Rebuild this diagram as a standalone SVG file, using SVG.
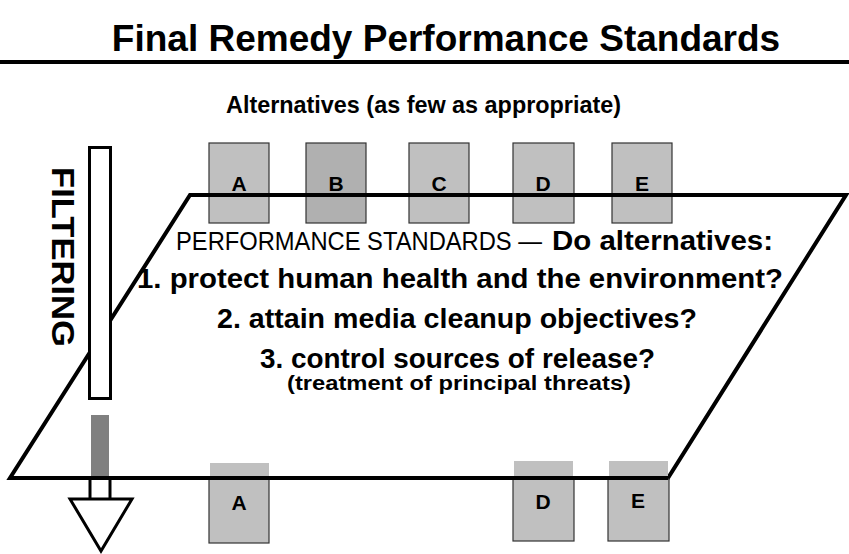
<svg xmlns="http://www.w3.org/2000/svg" width="849" height="554" viewBox="0 0 849 554">
<style>
text{font-family:"Liberation Sans",Arial,sans-serif;font-weight:bold;fill:#000}
.box{fill:#c0c0c0;stroke:#333;stroke-width:1.2}
.strip{fill:#c0c0c0;stroke:none}
.q{font-size:28px}
</style>
<rect width="849" height="554" fill="#fff"/>
<text x="446" y="51" font-size="37" text-anchor="middle">Final Remedy Performance Standards</text>
<line x1="0" y1="62" x2="849" y2="62" stroke="#000" stroke-width="4"/>
<text x="226" y="113" font-size="24" textLength="395" lengthAdjust="spacingAndGlyphs">Alternatives (as few as appropriate)</text>

<g id="plane">
<polygon points="190,195 846,195 668,478 10,478" fill="#fff" stroke="#000" stroke-width="4" stroke-linejoin="miter"/>
</g>

<g id="filter">
<rect x="89.5" y="147.5" width="21" height="251" fill="#fff" stroke="#000" stroke-width="3"/>
<rect x="91" y="415" width="18" height="63" fill="#808080"/>
<line x1="90" y1="478" x2="90" y2="499" stroke="#000" stroke-width="3"/>
<line x1="110" y1="478" x2="110" y2="499" stroke="#000" stroke-width="3"/>
<polygon points="70,499 132,499 101,551" fill="#fff" stroke="#000" stroke-width="3"/>
<text transform="translate(52,167) rotate(90)" font-size="32" textLength="180" lengthAdjust="spacingAndGlyphs">FILTERING</text>
</g>

<g id="top-A"><rect class="box" x="209" y="143" width="60" height="80"/><text x="239" y="191" font-size="21" text-anchor="middle">A</text></g>
<g id="top-B"><rect class="box" x="306" y="143" width="60" height="80" style="fill:#b0b0b0"/><text x="336" y="191" font-size="21" text-anchor="middle">B</text></g>
<g id="top-C"><rect class="box" x="409" y="143" width="60" height="80"/><text x="439" y="191" font-size="21" text-anchor="middle">C</text></g>
<g id="top-D"><rect class="box" x="513" y="143" width="61" height="80"/><text x="543" y="191" font-size="21" text-anchor="middle">D</text></g>
<g id="top-E"><rect class="box" x="612" y="143" width="60" height="80"/><text x="642" y="191" font-size="21" text-anchor="middle">E</text></g>

<g id="connectors">
<line x1="190" y1="195" x2="846" y2="195" stroke="#000" stroke-width="4"/>
</g>

<g id="questions">
<text x="176" y="250" font-size="25" font-weight="normal" style="font-weight:normal" textLength="366" lengthAdjust="spacingAndGlyphs">PERFORMANCE STANDARDS —</text>
<text x="552" y="250" font-size="28" textLength="221" lengthAdjust="spacingAndGlyphs">Do alternatives:</text>
<text class="q" x="137" y="288" textLength="646" lengthAdjust="spacingAndGlyphs">1. protect human health and the environment?</text>
<text class="q" x="217" y="328" textLength="480" lengthAdjust="spacingAndGlyphs">2. attain media cleanup objectives?</text>
<text class="q" x="260" y="368" textLength="395" lengthAdjust="spacingAndGlyphs">3. control sources of release?</text>
<text x="287" y="390" font-size="20" textLength="344" lengthAdjust="spacingAndGlyphs">(treatment of principal threats)</text>
</g>

<g id="bot-A"><rect class="strip" x="210" y="463" width="59" height="15"/><rect class="box" x="209" y="479" width="60" height="64"/><text x="239" y="510" font-size="21" text-anchor="middle">A</text></g>
<g id="bot-D"><rect class="strip" x="514" y="461" width="59" height="17"/><rect class="box" x="513" y="479" width="61" height="62"/><text x="543" y="509" font-size="21" text-anchor="middle">D</text></g>
<g id="bot-E"><rect class="strip" x="609" y="461" width="59" height="17"/><rect class="box" x="608" y="479" width="61" height="62"/><text x="638" y="508" font-size="21" text-anchor="middle">E</text></g>
<line x1="10" y1="478" x2="668" y2="478" stroke="#000" stroke-width="4"/>
</svg>
